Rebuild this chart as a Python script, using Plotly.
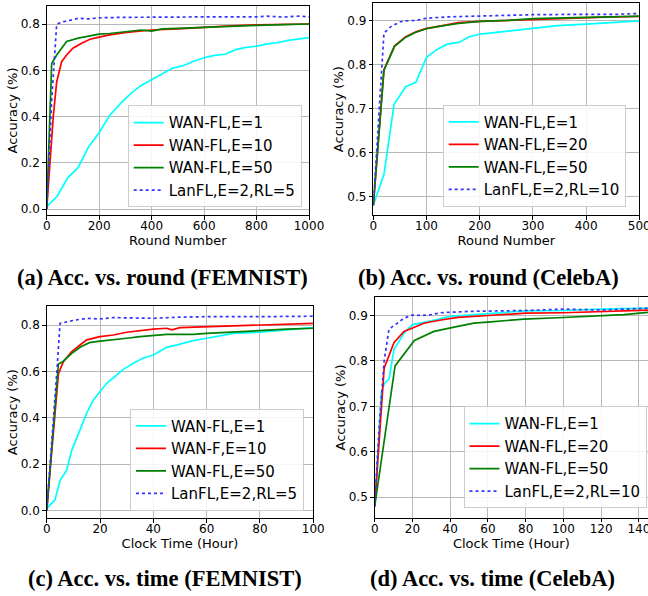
import plotly.graph_objects as go

# ---------------- data ----------------
# (a) FEMNIST, accuracy vs. round
a_e1_x = [0, 40, 80, 120, 160, 200, 240, 280, 320, 360, 400, 440, 480, 520, 560, 600, 640, 680, 720, 760, 800, 840, 880, 920, 960, 1000]
a_e1_y = [0.01, 0.055, 0.135, 0.18, 0.27, 0.33, 0.405, 0.455, 0.50, 0.535, 0.56, 0.585, 0.61, 0.62, 0.64, 0.655, 0.665, 0.67, 0.69, 0.70, 0.705, 0.715, 0.72, 0.73, 0.737, 0.742]
a_e10_x = [0, 13, 25, 38, 57, 76, 100, 133, 165, 200, 240, 305, 400, 500, 600, 700, 800, 900, 1000]
a_e10_y = [0.0, 0.2, 0.4, 0.55, 0.638, 0.667, 0.696, 0.718, 0.735, 0.744, 0.754, 0.765, 0.775, 0.78, 0.787, 0.793, 0.797, 0.799, 0.801]
a_e50_x = [0, 19, 38, 76, 120, 165, 200, 240, 300, 360, 400, 440, 500, 600, 700, 800, 900, 1000]
a_e50_y = [0.0, 0.63, 0.667, 0.725, 0.74, 0.75, 0.757, 0.76, 0.768, 0.775, 0.77, 0.78, 0.782, 0.787, 0.793, 0.795, 0.798, 0.801]
a_lan_x = [0, 19, 38, 60, 100, 120, 160, 200, 300, 400, 500, 600, 700, 800, 840, 900, 960, 1000]
a_lan_y = [0.0, 0.47, 0.80, 0.81, 0.82, 0.826, 0.823, 0.828, 0.83, 0.832, 0.831, 0.832, 0.831, 0.832, 0.835, 0.831, 0.835, 0.832]

# (b) CelebA, accuracy vs. round
b_e1_x = [0, 20, 39, 61, 80, 100, 120, 139, 161, 180, 202, 252, 302, 346, 408, 460, 500]
b_e1_y = [0.48, 0.55, 0.71, 0.75, 0.76, 0.817, 0.835, 0.847, 0.851, 0.864, 0.87, 0.877, 0.883, 0.889, 0.893, 0.897, 0.90]
b_e20_x = [0, 20, 40, 61, 80, 100, 120, 140, 160, 200, 250, 300, 350, 400, 450, 500]
b_e20_y = [0.48, 0.789, 0.843, 0.864, 0.875, 0.883, 0.887, 0.892, 0.896, 0.899, 0.901, 0.904, 0.906, 0.908, 0.909, 0.910]
b_e50_x = [0, 20, 40, 61, 80, 100, 120, 140, 160, 200, 250, 300, 350, 400, 450, 500]
b_e50_y = [0.48, 0.787, 0.842, 0.863, 0.874, 0.882, 0.887, 0.891, 0.894, 0.899, 0.901, 0.905, 0.907, 0.908, 0.909, 0.911]
b_lan_x = [0, 10, 20, 33, 51, 60, 80, 100, 140, 200, 300, 400, 460, 500]
b_lan_y = [0.48, 0.68, 0.872, 0.887, 0.898, 0.900, 0.901, 0.906, 0.909, 0.911, 0.914, 0.915, 0.915, 0.917]

# (c) FEMNIST, accuracy vs. clock time (hour)
c_e1_x = [0, 3.1, 5, 7.5, 9.4, 12.5, 15, 17.5, 20, 22.5, 25.6, 28.75, 32.5, 36, 40, 45, 50, 55, 60, 65, 70, 80, 90, 100]
c_e1_y = [0.01, 0.046, 0.13, 0.175, 0.26, 0.35, 0.42, 0.477, 0.513, 0.549, 0.578, 0.609, 0.635, 0.657, 0.671, 0.704, 0.718, 0.733, 0.743, 0.753, 0.764, 0.769, 0.779, 0.789]
c_e10_x = [0, 2.5, 4.4, 6.25, 9.4, 12.5, 15, 20, 25, 30, 35, 40, 45, 47, 50, 60, 70, 80, 90, 100]
c_e10_y = [0.0, 0.35, 0.59, 0.642, 0.685, 0.714, 0.736, 0.75, 0.757, 0.769, 0.776, 0.782, 0.786, 0.779, 0.789, 0.793, 0.797, 0.801, 0.803, 0.807]
c_e50_x = [0, 2.5, 4.4, 6, 9.4, 12.5, 16, 20, 25, 30, 35, 40, 45, 50, 55, 60, 70, 80, 90, 100]
c_e50_y = [0.0, 0.35, 0.632, 0.642, 0.678, 0.704, 0.724, 0.731, 0.736, 0.743, 0.75, 0.754, 0.76, 0.76, 0.76, 0.764, 0.771, 0.776, 0.782, 0.786]
c_lan_x = [0, 2.5, 4, 5, 7.5, 10, 15, 20, 25, 30, 40, 50, 60, 80, 100]
c_lan_y = [0.0, 0.38, 0.63, 0.807, 0.815, 0.82, 0.829, 0.826, 0.832, 0.832, 0.829, 0.834, 0.836, 0.836, 0.838]

# (d) CelebA, accuracy vs. clock time (hour)
d_e1_x = [0, 3.5, 5, 7.6, 10.2, 12.9, 15.5, 20, 30, 40, 60, 80, 100, 120, 145]
d_e1_y = [0.48, 0.73, 0.75, 0.76, 0.825, 0.843, 0.861, 0.88, 0.888, 0.898, 0.904, 0.91, 0.911, 0.914, 0.916]
d_e20_x = [0, 5, 10.2, 15.5, 21, 26, 35, 44, 60, 80, 100, 120, 145]
d_e20_y = [0.48, 0.784, 0.84, 0.865, 0.874, 0.883, 0.89, 0.896, 0.90, 0.905, 0.906, 0.908, 0.912]
d_e50_x = [0, 10.8, 21, 31.4, 44, 52.6, 61.5, 79, 97, 114, 132, 145]
d_e50_y = [0.48, 0.789, 0.845, 0.865, 0.876, 0.883, 0.886, 0.892, 0.895, 0.898, 0.902, 0.907]
d_lan_x = [0, 2.3, 5, 7.6, 12, 15.5, 20, 25, 30, 35, 50, 80, 100, 120, 145]
d_lan_y = [0.48, 0.65, 0.80, 0.87, 0.883, 0.894, 0.901, 0.90, 0.902, 0.906, 0.909, 0.911, 0.914, 0.912, 0.916]

names_a = ["WAN-FL,E=1", "WAN-FL,E=10", "WAN-FL,E=50", "LanFL,E=2,RL=5"]
names_b = ["WAN-FL,E=1", "WAN-FL,E=20", "WAN-FL,E=50", "LanFL,E=2,RL=10"]
names_c = ["WAN-FL,E=1", "WAN-F,E=10", "WAN-FL,E=50", "LanFL,E=2,RL=5"]
names_d = ["WAN-FL,E=1", "WAN-FL,E=20", "WAN-FL,E=50", "LanFL,E=2,RL=10"]
captions = ["(a) Acc. vs. round (FEMNIST)", "(b) Acc. vs. round (CelebA)",
            "(c) Acc. vs. time (FEMNIST)", "(d) Acc. vs. time (CelebA)"]

# ---------------- styles ----------------
COLORS = ["#00ffff", "#ff0000", "#008000", "#3333ff"]
DASH = ["solid", "solid", "solid", "dot"]
W, H = 648, 596
FONT = "DejaVu Sans"

fig = go.Figure()

panels = [
    dict(series=[(a_e1_x, a_e1_y), (a_e10_x, a_e10_y), (a_e50_x, a_e50_y), (a_lan_x, a_lan_y)],
         names=names_a, xdom=[46.7, 309], ydom=[6, 215], xr=[0, 1000], yr=[-0.026, 0.879],
         xd=200, yd=0.2, y0=0.0, yfmt=".1f", xtitle="Round Number", leg=(301.7, 207.3)),
    dict(series=[(b_e1_x, b_e1_y), (b_e20_x, b_e20_y), (b_e50_x, b_e50_y), (b_lan_x, b_lan_y)],
         names=names_b, xdom=[373.3, 639.3], ydom=[3.3, 215], xr=[0, 500], yr=[0.458, 0.94],
         xd=100, yd=0.1, y0=0.5, yfmt=".1f", xtitle="Round Number", leg=(625.7, 206.7)),
    dict(series=[(c_e1_x, c_e1_y), (c_e10_x, c_e10_y), (c_e50_x, c_e50_y), (c_lan_x, c_lan_y)],
         names=names_c, xdom=[46.7, 313.3], ydom=[306, 518.3], xr=[0, 100], yr=[-0.033, 0.882],
         xd=20, yd=0.2, y0=0.0, yfmt=".1f", xtitle="Clock Time (Hour)", leg=(304, 510.7)),
    dict(series=[(d_e1_x, d_e1_y), (d_e20_x, d_e20_y), (d_e50_x, d_e50_y), (d_lan_x, d_lan_y)],
         names=names_d, xdom=[374.7, 648], ydom=[297.3, 517.7], xr=[0, 144.8], yr=[0.455, 0.94],
         xd=20, yd=0.1, y0=0.5, yfmt=".1f", xtitle="Clock Time (Hour)", leg=(646.5, 508.3)),
]

cap_pos = [(162, 277), (488.5, 277), (165, 578), (492, 578)]

layout = dict(width=W, height=H, margin=dict(l=0, r=0, t=0, b=0, autoexpand=False),
              paper_bgcolor="white", plot_bgcolor="white", showlegend=True,
              font=dict(family=FONT, color="black"))

for i, p in enumerate(panels):
    k = "" if i == 0 else str(i + 1)
    legname = "legend" if i == 0 else "legend" + str(i + 1)
    for j, (xs, ys) in enumerate(p["series"]):
        fig.add_trace(go.Scatter(
            x=xs, y=ys, mode="lines", name=p["names"][j],
            line=dict(color=COLORS[j], width=1.7, dash=DASH[j]),
            xaxis="x" + k, yaxis="y" + k, legend=legname))
    axcommon = dict(showline=True, linecolor="black", linewidth=1, mirror=True,
                    showgrid=True, gridcolor="#b8b8b8", gridwidth=1, automargin=False,
                    ticks="outside", ticklen=3.5, tickwidth=1, tickcolor="black",
                    ticklabeloverflow="allow",
                    zeroline=False, tickfont=dict(size=12, family=FONT, color="black"))
    layout["xaxis" + k] = dict(axcommon, domain=[p["xdom"][0] / W, p["xdom"][1] / W],
                               range=p["xr"], dtick=p["xd"], tick0=0,
                               anchor="y" + k, ticklabelstandoff=-4,
                               title=dict(text=p["xtitle"], font=dict(size=13, family=FONT), standoff=0))
    layout["yaxis" + k] = dict(axcommon, domain=[1 - p["ydom"][1] / H, 1 - p["ydom"][0] / H],
                               range=p["yr"], dtick=p["yd"], tick0=p["y0"], tickformat=p["yfmt"],
                               anchor="x" + k,
                               title=dict(text="Accuracy (%)", font=dict(size=13, family=FONT), standoff=0))
    layout[legname] = dict(x=p["leg"][0] / W, y=1 - p["leg"][1] / H, xanchor="right", yanchor="bottom",
                           bgcolor="rgba(255,255,255,0.85)", bordercolor="#cccccc", borderwidth=1,
                           font=dict(size=15, family=FONT, color="black"), itemwidth=30,
                           tracegroupgap=0)

annotations = []
for (cx, cy), txt in zip(cap_pos, captions):
    annotations.append(dict(text="<b>" + txt + "</b>", x=cx / W, y=1 - cy / H, xref="paper", yref="paper",
                            xanchor="center", yanchor="middle", showarrow=False,
                            font=dict(family="Liberation Serif", size=22.5, color="black")))
layout["annotations"] = annotations

fig.update_layout(**layout)
# remove the browser's default 8px page margin so the figure sits at the window origin
fig.write_html("out.html", config={"displayModeBar": False},
               post_script="document.body.style.margin='0px';document.body.style.overflow='hidden';")
